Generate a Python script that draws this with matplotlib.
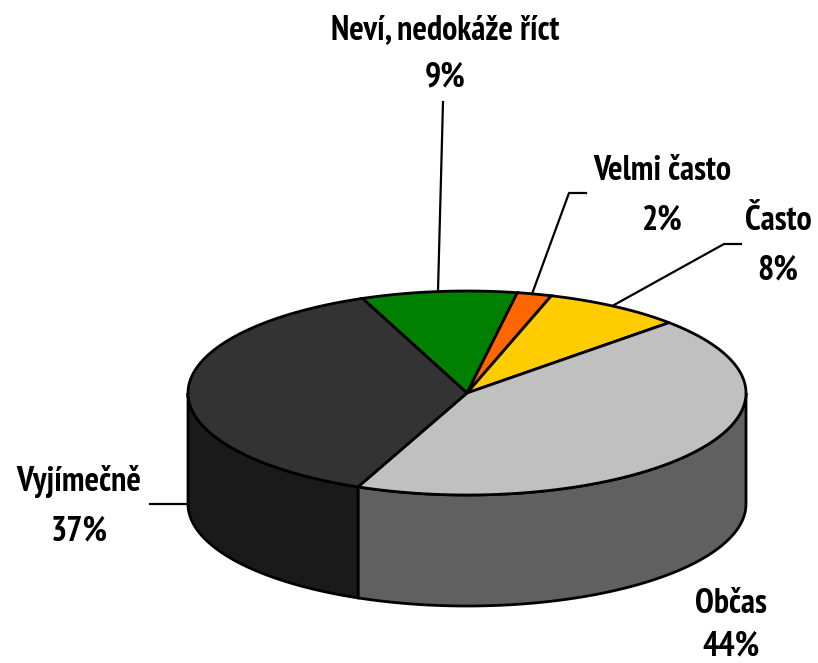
import numpy as np
import matplotlib
matplotlib.use("Agg")
import matplotlib.pyplot as plt
from matplotlib.patches import Polygon
from matplotlib import font_manager

labels = ["Neví, nedokáže říct", "Velmi často", "Často", "Občas", "Vyjímečně"]
values = [9, 2, 8, 43.5, 37.5]
percents = ["9%", "2%", "8%", "44%", "37%"]
top_colors = ["#008000", "#FF6600", "#FFCC00", "#C0C0C0", "#333333"]
side_colors = ["#004000", "#803300", "#806600", "#606060", "#1A1A1A"]

# label centre (x, first line y, second line y) in picture pixels
label_pos = [(445, 30, 77), (662, 171, 220), (778, 221, 270), (731, 604, 646), (79, 482, 531)]
# leader lines: from slice edge out to the text
leaders = [
    [(438, 291), (443, 102)],
    [(532, 294), (569, 193), (586, 193)],
    [(614, 305), (724, 244), (741, 244)],
    [],
    [(188, 504), (150, 504)],
]

cx, cy = 467, 393
rx, ry = 279, 102
depth = 111
start = 112

# narrow faces if they are there, otherwise condensed DejaVu
installed = {f.name for f in font_manager.fontManager.ttflist}
family = "DejaVu Sans"
stretch = "condensed"
fontsize = 19
for name in ["Liberation Sans Narrow", "PT Sans Narrow"]:
    if name in installed:
        family = name
        stretch = "normal"
        fontsize = 24.5
        break

fig = plt.figure(figsize=(8.18, 6.63), dpi=100)
ax = fig.add_axes([0, 0, 1, 1])
ax.set_xlim(0, 818)
ax.set_ylim(663, 0)
ax.axis("off")


def rim(a0, a1, n=80):
    t = np.radians(np.linspace(a0, a1, n))
    return cx + rx * np.cos(t), cy - ry * np.sin(t)


# slice angles, going clockwise from the start angle
edges = start - np.cumsum([0] + values) * 3.6

# sides first, only the front half of the rim shows
for i in range(len(values)):
    lo, hi = max(edges[i + 1], -180), min(edges[i], 0)
    if hi > lo:
        x, y = rim(hi, lo)
        pts = list(zip(x, y)) + list(zip(x[::-1], y[::-1] + depth))
        ax.add_patch(Polygon(pts, closed=True, fc=side_colors[i], ec="black", lw=2, zorder=2))

for i in range(len(values)):
    x, y = rim(edges[i], edges[i + 1])
    pts = [(cx, cy)] + list(zip(x, y))
    ax.add_patch(Polygon(pts, closed=True, fc=top_colors[i], ec="black", lw=2, zorder=3))

for line in leaders:
    if line:
        xs, ys = zip(*line)
        ax.plot(xs, ys, color="black", lw=1.6, zorder=4)

for i, name in enumerate(labels):
    lx, y1, y2 = label_pos[i]
    ax.text(lx, y1, name, ha="center", va="center", fontsize=fontsize, fontweight="bold", family=family, stretch=stretch)
    ax.text(lx, y2, percents[i], ha="center", va="center", fontsize=fontsize, fontweight="bold", family=family, stretch=stretch)

fig.savefig("out.png", dpi=100, facecolor="white")
